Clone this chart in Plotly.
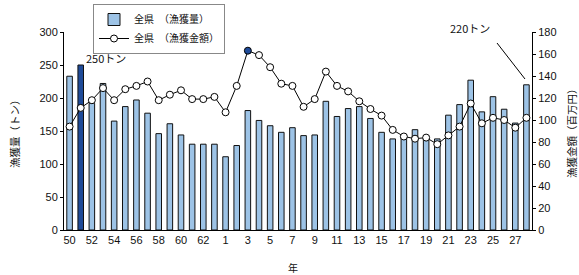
import plotly.graph_objects as go

years = [str(y) for y in range(50, 64)] + [str(y) for y in range(1, 29)]

catch_ton = [233, 250, 192, 222, 165, 187, 197, 177, 146, 161, 144, 130, 130, 130,
             111, 128, 181, 166, 158, 148, 155, 143, 144, 195, 172, 184, 187, 169,
             148, 138, 143, 152, 140, 138, 174, 190, 227, 179, 202, 183, 162, 220]

value_myen = [94, 111, 118, 129, 118, 128, 131, 135, 118, 123, 127, 119, 119, 121,
              107, 131, 163, 159, 148, 133, 131, 112, 119, 144, 131, 126, 117, 110,
              104, 91, 85, 83, 84, 78, 86, 94, 115, 97, 102, 100, 93, 102]

tick_labels = years[::2]

bar_name = "全県　（漁獲量）"
line_name = "全県　（漁獲金額）"
left_title = "漁獲量（トン）"
right_title = "漁獲金額（百万円）"
x_title = "年"

FONT = "Liberation Sans, Arial, Noto Sans CJK JP"
JP = "Noto Sans CJK JP"
LIGHT = "#9DC3E6"
DARK = "#1F4B99"

bar_colors = [DARK if y == "51" else LIGHT for y in years]
marker_colors = [DARK if y == "3" else "white" for y in years]

fig = go.Figure()
fig.add_trace(go.Bar(
    x=years, y=catch_ton, name=bar_name,
    marker=dict(color=bar_colors, line=dict(color="#111111", width=1)),
    yaxis="y",
))
fig.add_trace(go.Scatter(
    x=years, y=value_myen, name=line_name, mode="lines+markers",
    line=dict(color="black", width=1),
    marker=dict(size=7, color=marker_colors, line=dict(color="black", width=1)),
    yaxis="y2",
))

PW, PH = 468, 198  # plot area size in px

fig.update_layout(
    width=579, height=275,
    margin=dict(l=64, r=47, t=32, b=45, autoexpand=False),
    paper_bgcolor="white", plot_bgcolor="white",
    font=dict(family=FONT, size=11, color="#111111"),
    bargap=0.5,
    showlegend=True,
    legend=dict(xref="container", yref="container", x=93 / 579, y=1 - 4 / 275,
                xanchor="left", yanchor="top",
                bordercolor="#888888", borderwidth=1, bgcolor="white",
                font=dict(size=10, family=JP),
                tracegroupgap=0, itemwidth=30, traceorder="normal"),
    xaxis=dict(type="category", tickmode="array", tickvals=tick_labels, ticktext=tick_labels,
               range=[-0.5, len(years) - 0.5],
               showline=True, linecolor="black", linewidth=1, ticks="", automargin=False,
               tickfont=dict(size=11), tickangle=0),
    yaxis=dict(range=[0, 300], dtick=50, showline=True, linecolor="black", linewidth=1,
               ticks="outside", ticklen=3, tickcolor="black", showgrid=False, zeroline=False,
               automargin=False),
    yaxis2=dict(range=[0, 180], dtick=20, overlaying="y", side="right",
                showline=True, linecolor="black", linewidth=1, automargin=False,
                ticks="outside", ticklen=3, tickcolor="black", showgrid=False, zeroline=False),
)

def note(text, px, py, size=11, angle=0):
    fig.add_annotation(text=text, xref="paper", yref="paper",
                       x=(px - 64) / PW, y=(230 - py) / PH,
                       xanchor="center", yanchor="middle", textangle=angle,
                       showarrow=False, font=dict(size=size, family=JP))

# axis titles
note(left_title, 14, 131, size=10.5, angle=-90)
note(right_title, 571, 131, size=10.5, angle=-90)
note(x_title, 293, 267, size=10)

# callouts
note("250トン", 106, 58)
note("220トン", 470, 28)
fig.add_shape(type="line", xref="paper", yref="paper",
              x0=(497 - 64) / PW, y0=(230 - 43) / PH, x1=(525 - 64) / PW, y1=(230 - 79) / PH,
              line=dict(color="black", width=1))

fig.write_html("out.html", config={"displayModeBar": False},
               post_script="document.body.style.margin='0';")
